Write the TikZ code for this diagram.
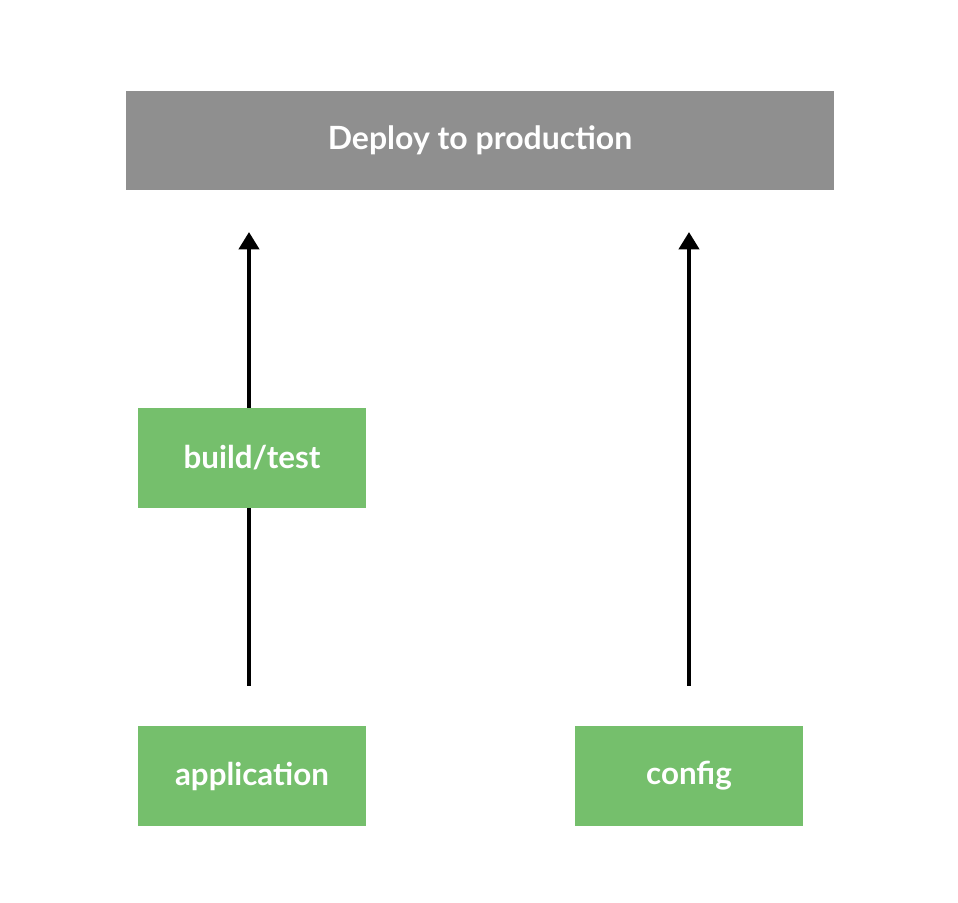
\documentclass[tikz,border=0pt]{standalone}
\usepackage{fontspec}
\setmainfont{Lato}
\usetikzlibrary{arrows.meta}
\definecolor{boxgray}{HTML}{8F8F8F}
\definecolor{boxgreen}{HTML}{75BF6C}
\begin{document}
\begin{tikzpicture}[x=0.75pt,y=-0.75pt,
  gbox/.style={fill=boxgreen,draw=none,minimum width=171pt,minimum height=75pt,inner sep=0pt,text=white,font=\bfseries\fontsize{23.5}{26}\selectfont},
  dbox/.style={fill=boxgray,draw=none,minimum width=531pt,minimum height=74.25pt,inner sep=0pt,text=white,font=\bfseries\fontsize{24}{26}\selectfont},
  conn/.style={line width=3pt},
  arr/.style={conn,-{Triangle[length=13pt,width=15pt]}}]
\useasboundingbox (0,0) rectangle (958,903);
\node[dbox] (deploy) at (480,140.5) {Deploy to production};
\node[gbox] (build) at (252,458) {build/test};
\node[gbox] (app) at (252,776) {application};
\node[gbox] (config) at (689,776) {config};
\coordinate (lt) at (249,232);
\coordinate (rt) at (689,232);
\draw[conn] (app.north -| lt) ++(0,-40) coordinate (ls) -- (ls |- build.south);
\draw[arr] (lt |- build.north) -- (lt);
\draw[arr] (config.north) ++(0,-40) -- (rt);
\end{tikzpicture}
\end{document}
